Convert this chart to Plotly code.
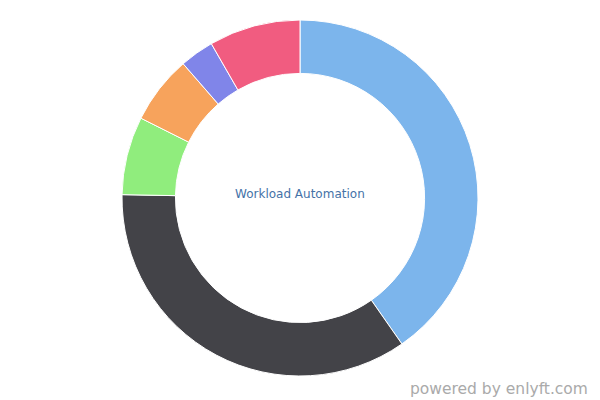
import plotly.graph_objects as go

labels = ["A", "B", "C", "D", "E", "F"]
values = [40.3, 35.0, 7.1, 6.2, 3.1, 8.3]
colors = ["#7cb5ec", "#434348", "#90ed7d", "#f7a35c", "#8085e9", "#f15c80"]
center_text = "Workload Automation"
credit_text = "powered by enlyft.com"

fig = go.Figure(go.Pie(
    labels=labels,
    values=values,
    hole=0.70,
    sort=False,
    direction="clockwise",
    rotation=0,
    marker=dict(colors=colors, line=dict(color="#ffffff", width=1)),
    textinfo="none",
    hoverinfo="label+percent",
    showlegend=False,
))

fig.update_layout(
    width=600, height=400,
    margin=dict(l=0, r=0, t=20, b=24),
    paper_bgcolor="#ffffff",
    plot_bgcolor="#ffffff",
    font=dict(family="DejaVu Sans"),
)
fig.add_annotation(text=center_text, x=0.5, y=(400 - 194 - 24) / 356, xref="paper", yref="paper",
                   showarrow=False, font=dict(size=12, color="#4572a7", family="DejaVu Sans"))
fig.add_annotation(text=credit_text, x=1.0, y=0, xref="paper", yref="paper",
                   xanchor="right", yanchor="top", xshift=-10, yshift=-2,
                   showarrow=False, font=dict(size=15.5, color="#aaaaaa", family="DejaVu Sans"))

fig.write_html("out.html", config={"displayModeBar": False},
               post_script="document.body.style.margin='0';")
